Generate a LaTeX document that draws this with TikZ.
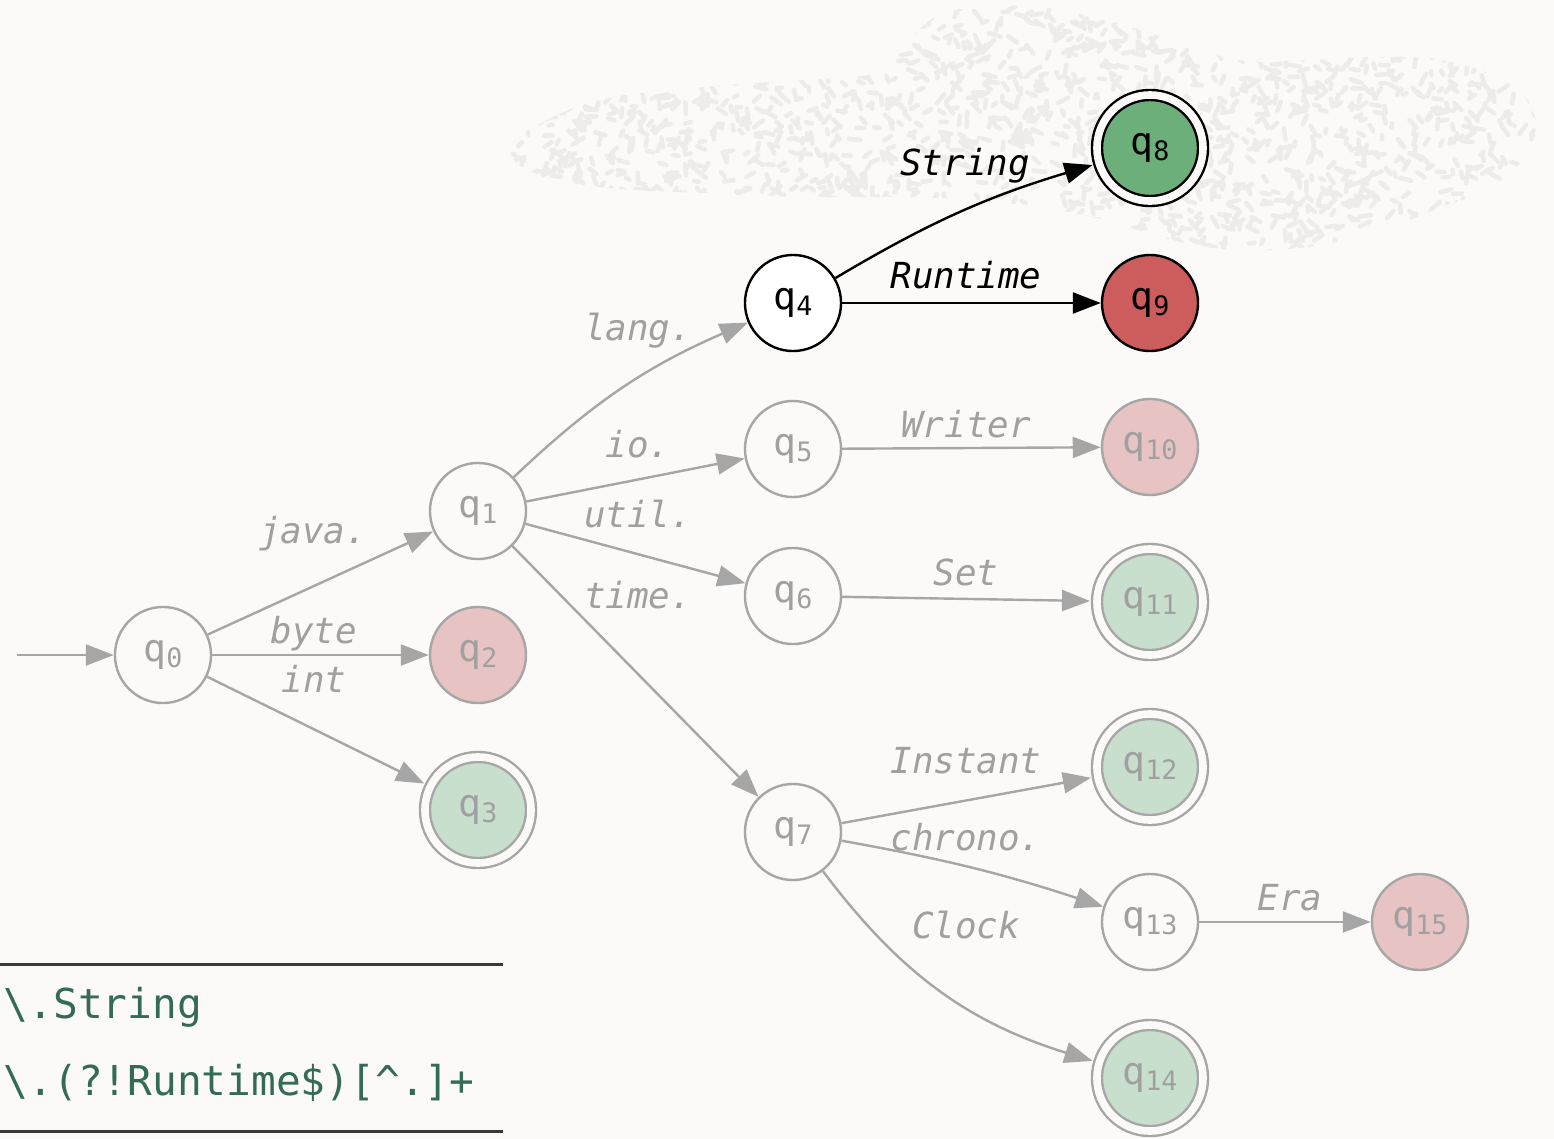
\documentclass[tikz,border=0pt]{standalone}
\usepackage{fontspec}
\setmonofont{DejaVu Sans Mono}[ItalicFont={DejaVu Sans Mono Oblique}]
\usetikzlibrary{arrows.meta}

\definecolor{bgc}{HTML}{FBFAF8}
\definecolor{edgec}{HTML}{A6A6A6}
\definecolor{textc}{HTML}{A0A0A0}
\definecolor{rejectlight}{HTML}{E8C3C3}
\definecolor{acceptlight}{HTML}{C9DFCE}
\definecolor{acceptdark}{HTML}{6DAF7B}
\definecolor{rejectdark}{HTML}{CD5C5C}
\definecolor{dashc}{HTML}{EDECEB}
\definecolor{codec}{HTML}{336B55}
\definecolor{rulec}{HTML}{3A3A3A}

% state name with a lowered, smaller index
\newcommand{\qs}[1]{q\raisebox{-0.06cm}{\fontsize{7.6}{8}\selectfont #1}}

\tikzset{
  state/.style={circle, draw=edgec, line width=0.024cm, minimum size=0.96cm,
    inner sep=0pt, fill=bgc, text=textc, font=\ttfamily\fontsize{10.8}{12}\selectfont},
  accept/.style={state, minimum size=1.06cm, double=bgc, double distance=0.076cm,
    outer sep=0.07cm},
  live/.style={draw=black, text=black},
  trans/.style={draw=edgec, line width=0.024cm,
    -{Triangle[length=0.28cm, width=0.21cm]}},
  hot/.style={draw=black},
  lbl/.style={anchor=base, inner sep=0pt, text=textc,
    font=\ttfamily\itshape\fontsize{10.2}{12}\selectfont},
  hotlbl/.style={lbl, text=black},
  grain/.style={draw=dashc, line width=0.045cm, line cap=round},
  coderow/.style={anchor=base west, inner sep=0pt, text=codec,
    font=\ttfamily\fontsize{11.7}{14}\selectfont},
  rule/.style={draw=rulec, line width=0.03cm}
}

\begin{document}
\begin{tikzpicture}[x=0.01cm, y=-0.01cm]
\useasboundingbox (0,0) rectangle (1554,1139);
\fill[bgc] (0,0) rectangle (1554,1139);

% grainy cloud behind the accepting branch
\begin{scope}
  \clip plot[smooth cycle, tension=0.7] coordinates {
    (510,150) (534,127) (601,100) (702,87) (802,80) (876,73) (903,50)
    (930,20) (970,8) (1038,7) (1105,20) (1172,40) (1239,60) (1306,60)
    (1374,57) (1441,60) (1508,83) (1535,117) (1528,150) (1495,187)
    (1441,207) (1374,233) (1306,247) (1239,250) (1172,240) (1105,220)
    (1038,207) (970,200) (903,197) (802,197) (702,193) (601,187) (534,173)};
  \pgfmathsetseed{42}
  \foreach \i in {1,...,2000}{
    \pgfmathsetmacro{\xx}{505+1040*rnd}
    \pgfmathsetmacro{\yy}{5+248*rnd}
    \pgfmathsetmacro{\aa}{180*rnd}
    \pgfmathsetmacro{\ll}{4+8*rnd}
    \draw[grain] (\xx,\yy) -- ++(\aa:\ll);
  }
\end{scope}

% states
\node[state] (q0) at (163,655) {\qs{0}};
\node[state] (q1) at (478,511) {\qs{1}};
\node[state, fill=rejectlight] (q2) at (478,655) {\qs{2}};
\node[accept, fill=acceptlight] (q3) at (478,810) {\qs{3}};
\node[state, live, fill=white] (q4) at (793,303) {\qs{4}};
\node[state] (q5) at (793,449) {\qs{5}};
\node[state] (q6) at (793,596) {\qs{6}};
\node[state] (q7) at (793,832) {\qs{7}};
\node[accept, live, fill=acceptdark] (q8) at (1150,148) {\qs{8}};
\node[state, live, fill=rejectdark] (q9) at (1150,303) {\qs{9}};
\node[state, fill=rejectlight] (q10) at (1150,447) {\qs{10}};
\node[accept, fill=acceptlight] (q11) at (1150,602) {\qs{11}};
\node[accept, fill=acceptlight] (q12) at (1150,767) {\qs{12}};
\node[state] (q13) at (1150,922) {\qs{13}};
\node[accept, fill=acceptlight] (q14) at (1150,1078) {\qs{14}};
\node[state, fill=rejectlight] (q15) at (1420,922) {\qs{15}};

% transitions
\coordinate (start) at (17,655);
\draw[trans] (start) -- (q0);
\draw[trans] (q0) -- (q1);
\draw[trans] (q0) -- (q2);
\draw[trans] (q0) -- (q3);
\draw[trans] (q1) to[bend left=10] (q4);
\draw[trans] (q1) -- (q5);
\draw[trans] (q1) -- (q6);
\draw[trans] (q1) -- (q7);
\draw[trans, hot] (q4) to[bend left=7] (q8);
\draw[trans, hot] (q4) -- (q9);
\draw[trans] (q5) -- (q10);
\draw[trans] (q6) -- (q11);
\draw[trans] (q7) -- (q12);
\draw[trans] (q7) to[bend left=4] (q13);
\draw[trans] (q7) to[bend right=18] (q14);
\draw[trans] (q13) -- (q15);

% transition labels
\node[lbl] (lJava) at (313,543) {java.};
\node[lbl] (lByte) at (314,643) {byte};
\node[lbl] (lInt) at (314,692) {int};
\node[lbl] (lLang) at (638,340) {lang.};
\node[lbl] (lIo) at (638,457) {io.};
\node[lbl] (lUtil) at (638,527) {util.};
\node[lbl] (lTime) at (638,608) {time.};
\node[hotlbl] (lString) at (965,175) {String};
\node[hotlbl] (lRuntime) at (966,288) {Runtime};
\node[lbl] (lWriter) at (966,437) {Writer};
\node[lbl] (lSet) at (966,585) {Set};
\node[lbl] (lInstant) at (966,773) {Instant};
\node[lbl] (lChrono) at (966,850) {chrono.};
\node[lbl] (lClock) at (966,938) {Clock};
\node[lbl] (lEra) at (1290,910) {Era};

% pattern table
\draw[rule] (0,964) -- (503,964);
\draw[rule] (0,1131) -- (503,1131);
\node[coderow] (rowA) at (3,1018) {\textbackslash.String};
\node[coderow] (rowB) at (3,1095) {\textbackslash.(?!Runtime\$)[\textasciicircum.]+};
\end{tikzpicture}
\end{document}
